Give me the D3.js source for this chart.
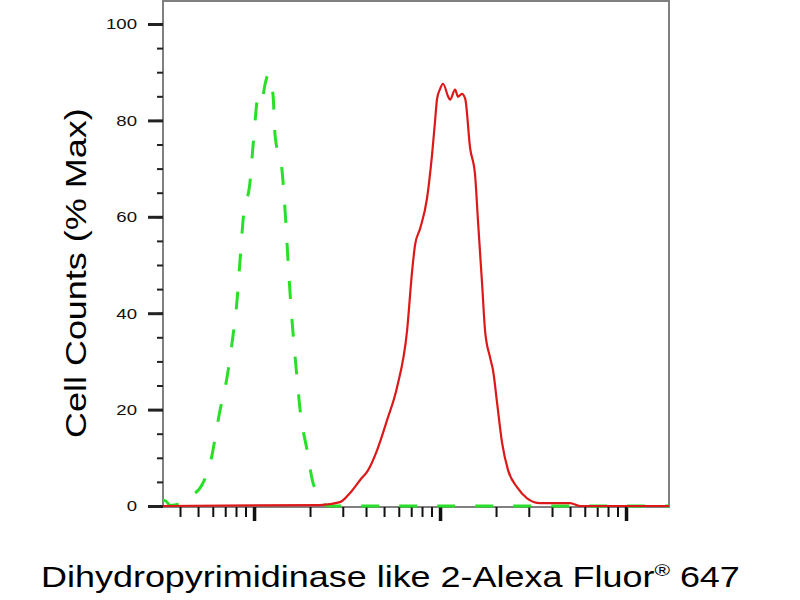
<!DOCTYPE html>
<html>
<head>
<meta charset="utf-8">
<script src="https://cdn.jsdelivr.net/npm/d3@7"></script>
<style>
  html, body { margin: 0; padding: 0; background: #fff; }
  svg { display: block; }
  text { font-family: "Liberation Sans", Arial, sans-serif; }
</style>
</head>
<body>
<svg id="chart" width="800" height="600"></svg>
<script>
// ---- data (fluorescence intensity, % of max) ----
const isotypeX = [32.4, 33.7, 35.4, 39.8, 45.3, 53.2, 58.1, 65.6, 71.6, 76.2, 81.1, 84.1, 87.3, 95.3, 98.9, 106, 110.4, 114.6, 119.1, 123.6, 126.5, 129.7, 141.6, 146.9, 152.4, 156.3, 162.2, 170.2, 177.0, 192.8, 207.5, 218.3, 232.3, 256.4, 17022];
const isotypeY = [1.2, 1.0, 0.1, 0.4, 1.9, 4.8, 8.9, 19.8, 26.7, 33.9, 42.8, 51.0, 59.3, 67.5, 75.0, 85.5, 84.5, 87.5, 89.5, 87.0, 85.3, 77.0, 69.4, 61.2, 50.8, 44.0, 35.7, 26.7, 19.8, 11.6, 4.8, 2.9, 0.5, 0.0, 0.0];

const sampleX = [32.4, 226, 290, 328, 372, 410, 459, 519, 587, 665, 708, 735, 782, 851, 906, 940, 964, 1000, 1038, 1104, 1132, 1205, 1250, 1312, 1365, 1452, 1542, 1600, 1683, 1746, 1858, 1928, 2028, 2158, 2323, 2594, 2938, 3451, 5000, 5662, 17022];
const sampleY = [0.0, 0.2, 0.8, 2.7, 5.4, 7.4, 11.6, 17.8, 24.6, 36.4, 48.8, 54.3, 57.6, 63.8, 72.9, 79.8, 84.5, 86.5, 87.6, 85.0, 84.3, 86.4, 84.9, 85.5, 84.5, 74.2, 68.8, 59.1, 46.1, 36.4, 30.8, 28.1, 21.3, 13.0, 7.4, 3.9, 1.6, 0.6, 0.6, 0.0, 0.0];

const yMajorTicks = [0, 20, 40, 60, 80, 100];
const yMinorTicks = d3.range(0, 101, 5);
const xMajorTicks = [100, 1000, 10000];

const yTitle = "Cell Counts (% Max)";
const xTitleMain = "Dihydropyrimidinase like 2-Alexa Fluor";
const xTitleSup = "®";
const xTitleEnd = " 647";

// ---- layout ----
const svg = d3.select("#chart");
const L = 163, R = 669, T = 1, B = 507;
const STRETCH = 1.24;

const x = d3.scaleLog().domain([32.4, 17022]).range([L, R]);
const y = d3.scaleLinear().domain([0, 100]).range([506, 24]);

// frame
svg.append("rect")
  .attr("x", L).attr("y", T).attr("width", R - L).attr("height", B - T)
  .attr("fill", "none").attr("stroke", "#808080").attr("stroke-width", 2);

// y axis minor
const yMinor = svg.append("g").attr("transform", `translate(${L},0)`)
  .call(d3.axisLeft(y).tickValues(yMinorTicks).tickSize(6).tickFormat(""));
yMinor.select(".domain").remove();
yMinor.selectAll(".tick line").attr("stroke", "#222").attr("stroke-width", 2);

// y axis major
const yMajor = svg.append("g").attr("transform", `translate(${L},0)`)
  .call(d3.axisLeft(y).tickValues(yMajorTicks).tickSize(15).tickPadding(10).tickFormat(d3.format("d")));
yMajor.select(".domain").remove();
yMajor.selectAll(".tick line").attr("stroke", "#222").attr("stroke-width", 3);
yMajor.selectAll(".tick text")
  .attr("font-size", 15).attr("fill", "#111")
  .attr("font-family", "'Liberation Sans', Arial, sans-serif")
  .attr("x", -26 / STRETCH)
  .attr("transform", `scale(${STRETCH},1)`);

// x axis minor
const xMinorVals = x.ticks().filter(v => v >= x.domain()[0] && v <= x.domain()[1]);
const xMinor = svg.append("g").attr("transform", `translate(0,${B})`)
  .call(d3.axisBottom(x).tickValues(xMinorVals).tickSize(10).tickFormat(""));
xMinor.select(".domain").remove();
xMinor.selectAll(".tick line").attr("stroke", "#111").attr("stroke-width", 2);

// x axis major
const xMajor = svg.append("g").attr("transform", `translate(0,${B})`)
  .call(d3.axisBottom(x).tickValues(xMajorTicks).tickSize(14).tickFormat(""));
xMajor.select(".domain").remove();
xMajor.selectAll(".tick line").attr("stroke", "#111").attr("stroke-width", 3.5);

// curves
const line = d3.line()
  .x(d => x(d[0])).y(d => y(d[1]))
  .curve(d3.curveMonotoneX);

const isotype = isotypeX.map((v, i) => [v, isotypeY[i]]);
const sample = sampleX.map((v, i) => [v, sampleY[i]]);

svg.append("path").datum(isotype)
  .attr("d", line).attr("fill", "none")
  .attr("stroke", "#28e028").attr("stroke-width", 3)
  .attr("stroke-dasharray", "18,20");

svg.append("path").datum(sample)
  .attr("d", line).attr("fill", "none")
  .attr("stroke", "#dd1818").attr("stroke-width", 2.2)
  .attr("stroke-linejoin", "round");

// y title
svg.append("text")
  .attr("transform", `translate(86,438) rotate(-90) scale(${STRETCH},1)`)
  .attr("font-size", 29).attr("fill", "#000")
  .text(yTitle);

// x title
const xt = svg.append("text")
  .attr("transform", `translate(41,587) scale(${STRETCH},1)`)
  .attr("font-size", 29).attr("fill", "#000");
xt.append("tspan").text(xTitleMain);
xt.append("tspan").attr("font-size", 17).attr("dy", -11).text(xTitleSup);
xt.append("tspan").attr("dy", 11).text(xTitleEnd);
</script>
</body>
</html>
